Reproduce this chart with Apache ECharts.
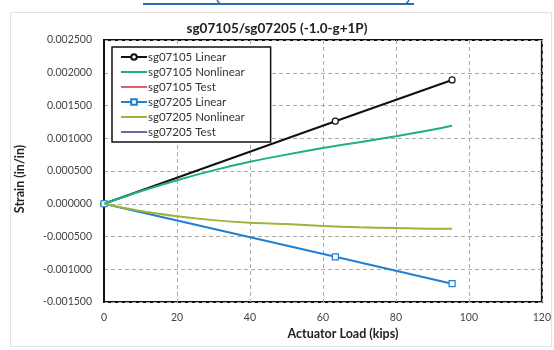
<!DOCTYPE html>
<html><head><meta charset="utf-8">
<script src="https://cdn.jsdelivr.net/npm/echarts@6/dist/echarts.min.js"></script>
<style>html,body{margin:0;padding:0;background:#fff}#c{width:554px;height:350px}</style>
</head><body><div id="c"></div>
<script>
const titleText = 'sg07105/sg07205 (-1.0-g+1P)';
const xName = 'Actuator Load (kips)';
const yName = 'Strain (in/in)';
const seriesNames = ['sg07105 Linear','sg07105 Nonlinear','sg07105 Test','sg07205 Linear','sg07205 Nonlinear','sg07205 Test'];
const linearLoads = [0, 63.4, 95.4];
const sg07105Linear = [0, 0.00126, 0.00189];
const sg07205Linear = [0, -0.00081, -0.00122];
const nonlinearLoads = [0, 10, 20, 30, 40, 50, 60, 70, 80, 90, 95.4];
const sg07105Nonlinear = [0, 0.00019, 0.00036, 0.00051, 0.00064, 0.00075, 0.00085, 0.00094, 0.00103, 0.00113, 0.00119];
const sg07205Nonlinear = [0, -0.00011, -0.00019, -0.00025, -0.00029, -0.00031, -0.00034, -0.00036, -0.00037, -0.00038, -0.00038];
const sg07105Test = [];
const sg07205Test = [];

const pair = (xs, ys) => ys.map((y, i) => [xs[i], y]);
const font = 'Lato, "Open Sans", sans-serif';
const lineOnly = n => ({name: n, itemStyle: {opacity: 0}});
const chart = echarts.init(document.getElementById('c'));
chart.setOption({
  animation: false,
  backgroundColor: '#fff',
  textStyle: {fontFamily: font},
  title: {text: titleText, left: 'center', top: 17,
    textStyle: {fontFamily: font, fontSize: 13.5, fontWeight: 'bold', color: '#222'}},
  graphic: [
    {type: 'rect', shape: {x: 10.5, y: 12.5, width: 541, height: 334}, style: {fill: 'none', stroke: '#e2e2e2', lineWidth: 1}, z: -1},
    {type: 'polyline', shape: {points: [[217,0],[219,3],[221,4],[405,4],[407,3],[409,0]]}, style: {stroke: '#2b6cb5', lineWidth: 1.5, fill: 'none'}},
    {type: 'line', shape: {x1: 143, y1: 4, x2: 414, y2: 4}, style: {stroke: '#2b6cb5', lineWidth: 2}}
  ],
  legend: {
    orient: 'vertical', left: 112, top: 47,
    data: [seriesNames[0], lineOnly(seriesNames[1]), lineOnly(seriesNames[2]), seriesNames[3], lineOnly(seriesNames[4]), lineOnly(seriesNames[5])],
    backgroundColor: '#fff', borderColor: '#111', borderWidth: 1.5,
    padding: [4, 26, 4, 8], itemGap: 3, itemWidth: 26, itemHeight: 7,
    textStyle: {fontFamily: font, fontSize: 11.5, color: '#333', lineHeight: 12, padding: [0,0,0,-4]}
  },
  grid: {left: 104, right: 11, top: 40, bottom: 48, show: true, borderColor: '#111', borderWidth: 2},
  xAxis: {
    type: 'value', min: 0, max: 120, interval: 20,
    name: xName, nameLocation: 'middle', nameGap: 22,
    nameTextStyle: {fontFamily: font, fontSize: 12.5, fontWeight: 'bold', color: '#222', padding: [0,0,0,40]},
    axisLine: {show: false}, axisTick: {show: false},
    axisLabel: {fontFamily: font, fontSize: 10.5, color: '#444', margin: 10},
    splitLine: {show: true, lineStyle: {color: '#aaa', type: [4,3], width: 1}}
  },
  yAxis: {
    type: 'value', min: -0.0015, max: 0.0025, interval: 0.0005,
    name: yName, nameLocation: 'middle', nameGap: 78,
    nameTextStyle: {fontFamily: font, fontSize: 12.5, fontWeight: 'bold', color: '#222', padding: [0,16,0,0]},
    axisLine: {show: true, onZero: false, lineStyle: {color: '#111', width: 2}}, axisTick: {show: false},
    axisLabel: {fontFamily: font, fontSize: 10.5, color: '#444', margin: 12,
      formatter: v => (Math.abs(v) < 1e-12 ? 0 : v).toFixed(6)},
    splitLine: {show: true, lineStyle: {color: '#aaa', type: [4,3], width: 1}}
  },
  series: [
    {name: seriesNames[0], type: 'line', data: pair(linearLoads, sg07105Linear), color: '#111',
     symbol: 'circle', symbolSize: 6, itemStyle: {color: '#fff', borderColor: '#111', borderWidth: 1.2},
     lineStyle: {color: '#111', width: 2}, z: 3},
    {name: seriesNames[3], type: 'line', data: pair(linearLoads, sg07205Linear), color: '#1f7fd0',
     symbol: 'rect', symbolSize: 6, itemStyle: {color: '#fff', borderColor: '#1f7fd0', borderWidth: 1.2},
     lineStyle: {color: '#1f7fd0', width: 2}, z: 3},
    {name: seriesNames[1], type: 'line', data: pair(nonlinearLoads, sg07105Nonlinear), color: '#1db27a',
     showSymbol: false, smooth: 0.3, lineStyle: {color: '#1db27a', width: 2}, z: 4},
    {name: seriesNames[4], type: 'line', data: pair(nonlinearLoads, sg07205Nonlinear), color: '#9cb43c',
     showSymbol: false, smooth: 0.3, lineStyle: {color: '#9cb43c', width: 2}, z: 4},
    {name: seriesNames[2], type: 'line', data: sg07105Test, color: '#e0606a', showSymbol: false, lineStyle: {color: '#e0606a', width: 2}},
    {name: seriesNames[5], type: 'line', data: sg07205Test, color: '#6a6aa8', showSymbol: false, lineStyle: {color: '#6a6aa8', width: 2}}
  ]
});
</script></body></html>
